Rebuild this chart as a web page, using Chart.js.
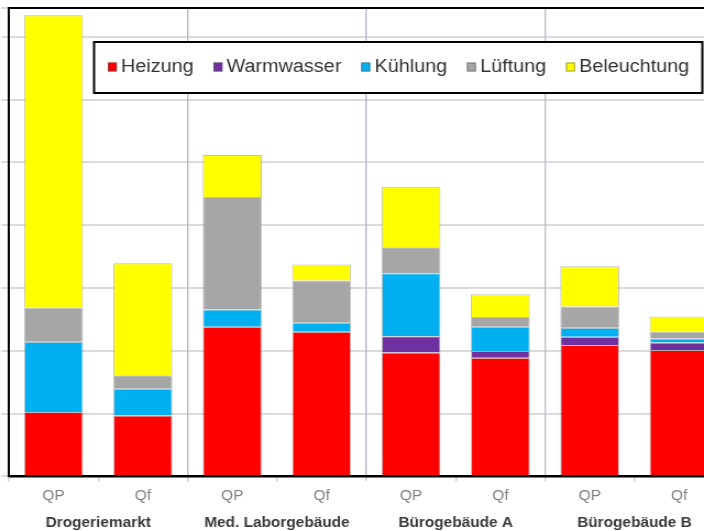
<!DOCTYPE html>
<html>
<head>
<meta charset="utf-8">
<script src="https://cdn.jsdelivr.net/npm/chart.js@4"></script>
<style>
    html, body { margin: 0; padding: 0; background: #fff; overflow: hidden; }
    #wrap { width: 670px; height: 540px; transform: scaleX(1.1); transform-origin: 0 0; }
</style>
</head>
<body>
<div id="wrap"><canvas id="energieChart" width="670" height="540"></canvas></div>
<script>
// Kennwerte je Gebäude: QP = Primärenergie, Qf = Endenergie
const kategorien = ['QP', 'Qf', 'QP', 'Qf', 'QP', 'Qf', 'QP', 'Qf'];
const gebaeude = ['Drogeriemarkt', 'Med. Laborgebäude', 'Bürogebäude A', 'Bürogebäude B'];

const heizung     = [51.2, 48.5, 119.2, 115.2, 98.6, 94.4, 104.6, 100.6];
const warmwasser  = [0, 0, 0, 0, 13.1, 5.4, 6.6, 6.1];
const kuehlung    = [56.0, 21.3, 13.8, 7.2, 50.1, 19.4, 7.2, 3.2];
const lueftung    = [27.2, 10.7, 89.4, 33.6, 20.6, 7.8, 16.8, 5.4];
const beleuchtung = [232.8, 89.3, 33.6, 12.8, 48.2, 18.1, 32.2, 12.0];

const schrift = "'Liberation Sans', Arial, sans-serif";

function serie(label, werte, farbe) {
    return {
        label: label,
        data: werte,
        backgroundColor: farbe,
        borderColor: 'rgba(110, 110, 110, 0.45)',
        borderWidth: 1,
        barPercentage: 0.66,
        categoryPercentage: 1.0
    };
}

// Legende als Kasten innerhalb der Zeichenfläche
const kastenLegende = {
    id: 'kastenLegende',
    afterDatasetsDraw(chart) {
        const ctx = chart.ctx;
        const a = chart.chartArea;
        ctx.save();
        ctx.strokeStyle = '#000';
        ctx.lineWidth = 2;
        ctx.beginPath();
        ctx.moveTo(a.left, a.bottom);
        ctx.lineTo(a.left, a.top);
        ctx.lineTo(a.right, a.top);
        ctx.moveTo(a.left, a.bottom);
        ctx.lineTo(a.right, a.bottom);
        ctx.stroke();
        ctx.restore();
    },
    afterDraw(chart) {
        const ctx = chart.ctx;
        const box = { x: 85.5, y: 42, w: 553, h: 51 };
        ctx.save();
        ctx.fillStyle = '#fff';
        ctx.fillRect(box.x, box.y, box.w, box.h);
        ctx.strokeStyle = '#000';
        ctx.lineWidth = 2;
        ctx.strokeRect(box.x, box.y, box.w, box.h);

        ctx.font = '18px ' + schrift;
        ctx.textBaseline = 'middle';
        const mitte = box.y + 25;
        let x = box.x + 12.5;
        chart.data.datasets.forEach(function(ds) {
            ctx.fillStyle = ds.backgroundColor;
            ctx.fillRect(x, mitte - 4.5, 8.2, 9);
            ctx.strokeStyle = 'rgba(90, 90, 90, 0.6)';
            ctx.lineWidth = 1;
            ctx.strokeRect(x + 0.5, mitte - 4, 7.2, 8);
            x += 12;
            ctx.fillStyle = '#333';
            ctx.fillText(ds.label, x, mitte);
            x += ctx.measureText(ds.label).width + 18;
        });
        ctx.restore();
    }
};

new Chart(document.getElementById('energieChart'), {
    type: 'bar',
    data: {
        labels: kategorien,
        datasets: [
            serie('Heizung', heizung, '#ff0000'),
            serie('Warmwasser', warmwasser, '#7030a0'),
            serie('Kühlung', kuehlung, '#00b0f0'),
            serie('Lüftung', lueftung, '#a6a6a6'),
            serie('Beleuchtung', beleuchtung, '#ffff00')
        ]
    },
    options: {
        responsive: false,
        devicePixelRatio: 1,
        animation: false,
        layout: { padding: { left: 1, right: 12, top: 8, bottom: 3 } },
        plugins: {
            legend: { display: false },
            tooltip: { enabled: false }
        },
        scales: {
            y: {
                stacked: true,
                min: 0,
                max: 373,
                ticks: { display: false, stepSize: 50 },
                grid: { color: '#dcdcdc', lineWidth: 2, tickLength: 7 },
                border: { color: '#000', width: 2 }
            },
            x: {
                stacked: true,
                weight: 0,
                grid: { drawOnChartArea: false, offset: true, tickLength: 5, color: '#d0d0d0', lineWidth: 1.5 },
                border: { color: '#000', width: 2 },
                ticks: { color: '#7f7f7f', padding: 6, font: { family: schrift, size: 14 } }
            },
            x2: {
                type: 'category',
                labels: gebaeude,
                position: 'bottom',
                offset: true,
                weight: 1,
                grid: { offset: true, drawOnChartArea: true, drawTicks: false, color: '#b8bccb', lineWidth: 1.4 },
                border: { display: false },
                ticks: { color: '#3a3a3a', padding: 5, font: { family: schrift, size: 14, weight: 'bold' } }
            }
        }
    },
    plugins: [kastenLegende]
});
</script>
</body>
</html>
